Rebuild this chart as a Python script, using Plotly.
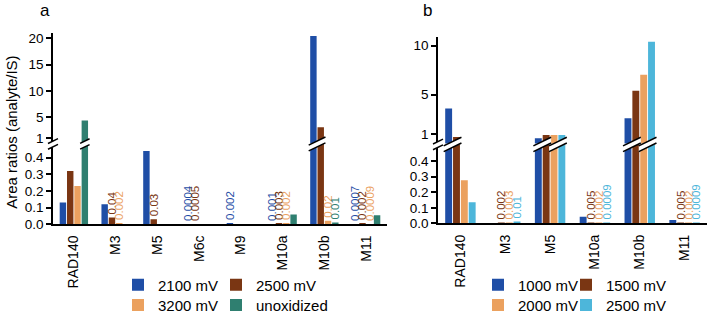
import plotly.graph_objects as go

W, H = 708, 322
FONT = "Liberation Sans, Arial, sans-serif"

# ---------------- data: panel a ----------------
cats_a = ["RAD140", "M3", "M5", "M6c", "M9", "M10a", "M10b", "M11"]
names_a = ["2100 mV", "2500 mV", "3200 mV", "unoxidized"]
a_2100 = [0.13, 0.12, 0.44, 0.0004, 0.002, 0.001, 20.4, 0.0007]
a_2500 = [0.32, 0.04, 0.03, 0.0005, None, 0.003, 3.1, 0.002]
a_3200 = [0.23, 0.002, None, None, None, 0.002, 0.02, 0.0009]
a_unox = [4.4, None, None, None, None, 0.058, 0.01, 0.054]
a_lab_2100 = ["", "", "", "0.0004", "0.002", "0.001", "", "0.0007"]
a_lab_2500 = ["", "0.04", "0.03", "0.0005", "", "0.003", "", "0.002"]
a_lab_3200 = ["", "0.002", "", "", "", "0.002", "0.02", "0.0009"]
a_lab_unox = ["", "", "", "", "", "", "0.01", ""]

# ---------------- data: panel b ----------------
cats_b = ["RAD140", "M3", "M5", "M10a", "M10b", "M11"]
names_b = ["1000 mV", "1500 mV", "2000 mV", "2500 mV"]
b_1000 = [3.57, None, 0.53, 0.043, 2.58, 0.022]
b_1500 = [0.67, 0.002, 0.87, 0.005, 5.39, 0.005]
b_2000 = [0.277, 0.003, 0.87, 0.002, 7.04, 0.002]
b_2500 = [0.136, 0.01, 0.88, 0.0009, 10.4, 0.0009]
b_lab_1000 = ["", "", "", "", "", ""]
b_lab_1500 = ["", "0.002", "", "0.005", "", "0.005"]
b_lab_2000 = ["", "0.003", "", "0.002", "", "0.002"]
b_lab_2500 = ["", "0.01", "", "0.0009", "", "0.0009"]

lower_ticks = [0.0, 0.1, 0.2, 0.3, 0.4]
upper_ticks_a = [1, 5, 10, 15, 20]
upper_ticks_b = [1, 5, 10]

col_a = ["#1f4ea6", "#7a3613", "#eba15f", "#2f7f70"]
col_b = ["#1f4ea6", "#7a3613", "#eba15f", "#4db6da"]

BARGAP, GROUPGAP = 0.3, 0.12

# ---------------- geometry (pixels) ----------------
panels = [
    dict(cats=cats_a, names=names_a, vals=[a_2100, a_2500, a_3200, a_unox],
         labs=[a_lab_2100, a_lab_2500, a_lab_3200, a_lab_unox], cols=col_a,
         x0=53, x1=387, y0=229.3, lscale=171.5, brk=146.5,
         one=140.7, uscale=5.44, top=31.7, uticks=upper_ticks_a,
         legx=[118, 216], title="a", tx=45),
    dict(cats=cats_b, names=names_b, vals=[b_1000, b_1500, b_2000, b_2500],
         labs=[b_lab_1000, b_lab_1500, b_lab_2000, b_lab_2500], cols=col_b,
         x0=438, x1=707, y0=228.5, lscale=160.5, brk=147.0,
         one=136.0, uscale=10.1, top=36.0, uticks=upper_ticks_b,
         legx=[478, 566], title="b", tx=427),
]

fig = go.Figure()
layout = dict(width=W, height=H, margin=dict(l=0, r=0, t=0, b=0),
              plot_bgcolor="white", paper_bgcolor="white",
              font=dict(family=FONT, color="black"),
              barmode="group", bargap=BARGAP, bargroupgap=GROUPGAP,
              showlegend=True)
shapes = []
annotations = []

def px2x(px):
    return px / W

def py2y(py):
    return 1 - py / H

def break_mark(xa, xb, yc, slope=0.5, gap=6.0):
    w = xb - xa
    rise = slope * w / 2
    g = gap / 2
    pts = [(xa, yc + g + rise), (xb, yc + g - rise), (xb, yc - g - rise), (xa, yc - g + rise)]
    path = "M " + " L ".join(f"{px2x(x):.5f},{py2y(y):.5f}" for x, y in pts) + " Z"
    shapes.append(dict(type="path", path=path, xref="paper", yref="paper",
                       fillcolor="white", line=dict(width=0), layer="above"))
    for off in (g, -g):
        shapes.append(dict(type="line", xref="paper", yref="paper",
                           x0=px2x(xa), y0=py2y(yc + off + rise),
                           x1=px2x(xb), y1=py2y(yc + off - rise),
                           line=dict(color="black", width=1.5), layer="above"))

legend_rows_y = [292, 313]
leg_counter = [0]

for p_i, p in enumerate(panels):
    n = len(p["cats"])
    k = 2 * p_i
    xl, yl = f"x{k + 1 if k else ''}", f"y{k + 1 if k else ''}"
    xu, yu = f"x{k + 2}", f"y{k + 2}"
    lower_top = (p["y0"] - p["brk"]) / p["lscale"]
    up_lo = 1 - (p["brk"] - p["one"]) / p["uscale"]
    up_hi = 1 + (p["one"] - p["top"]) / p["uscale"]

    axis_common = dict(showgrid=False, zeroline=False, showline=True,
                       linecolor="black", linewidth=1.5)
    layout["xaxis" + (str(k + 1) if k else "")] = dict(
        domain=[px2x(p["x0"]), px2x(p["x1"])], anchor=yl, type="category",
        categoryarray=p["cats"], range=[-0.5, n - 0.5], ticks="",
        tickangle=-90, tickfont=dict(size=14), ticklabelstandoff=4, **axis_common)
    layout["yaxis" + (str(k + 1) if k else "")] = dict(
        domain=[py2y(p["y0"]), py2y(p["brk"])], anchor=xl,
        range=[0, lower_top], tickvals=lower_ticks,
        ticktext=[f"{v:.1f}" for v in lower_ticks], ticks="outside",
        ticklen=5, tickwidth=1.5, tickcolor="black", tickfont=dict(size=13.5),
        **axis_common)
    layout[f"xaxis{k + 2}"] = dict(
        domain=[px2x(p["x0"]), px2x(p["x1"])], anchor=yu, type="category",
        categoryarray=p["cats"], range=[-0.5, n - 0.5], visible=False,
        matches=xl)
    layout[f"yaxis{k + 2}"] = dict(
        domain=[py2y(p["brk"]), py2y(p["top"])], anchor=xu,
        range=[up_lo, up_hi], tickvals=p["uticks"],
        ticktext=[str(v) for v in p["uticks"]], ticks="outside",
        ticklen=5, tickwidth=1.5, tickcolor="black", tickfont=dict(size=13.5),
        **axis_common)

    for s_i, (name, vals, labs, col) in enumerate(zip(p["names"], p["vals"], p["labs"], p["cols"])):
        leg_counter[0] += 1
        leg = "legend" if leg_counter[0] == 1 else f"legend{leg_counter[0]}"
        layout[leg] = dict(orientation="h", x=px2x(p["legx"][s_i % 2]), xanchor="left",
                           y=py2y(legend_rows_y[s_i // 2]), yanchor="middle",
                           font=dict(size=15), bgcolor="rgba(0,0,0,0)", borderwidth=0,
                           itemclick=False, itemdoubleclick=False)
        fig.add_trace(go.Bar(
            x=p["cats"], y=vals, name=name, xaxis=xl, yaxis=yl,
            marker=dict(color=col, line=dict(width=0)),
            text=labs, textposition="outside", textangle=-90,
            textfont=dict(color=col, size=11.5, family=FONT),
            constraintext="none", legend=leg, showlegend=True,
            hoverinfo="x+y+name"))
        upper_vals = [v if (v is not None and v > lower_top) else None for v in vals]
        fig.add_trace(go.Bar(
            x=p["cats"], y=upper_vals, name=name, xaxis=xu, yaxis=yu,
            marker=dict(color=col, line=dict(width=0)),
            showlegend=False, hoverinfo="x+y+name"))

    # break marks: axis and bars that cross the break
    cw = (p["x1"] - p["x0"]) / n
    slot = (1 - BARGAP) / 4
    half = slot * (1 - GROUPGAP) / 2
    break_mark(p["x0"] - 5, p["x0"] + 5, p["brk"])
    for c in range(n):
        for pair in ((0, 1), (2, 3)):
            crossing = [s for s in pair
                        if p["vals"][s][c] is not None and p["vals"][s][c] > lower_top]
            if not crossing:
                continue
            lefts = [c + (-(1 - BARGAP) / 2 + (s + 0.5) * slot) - half for s in crossing]
            rights = [c + (-(1 - BARGAP) / 2 + (s + 0.5) * slot) + half for s in crossing]
            xa = p["x0"] + (min(lefts) + 0.5) * cw - 1.5
            xb = p["x0"] + (max(rights) + 0.5) * cw + 1.5
            break_mark(xa, xb, p["brk"])

    annotations.append(dict(text=p["title"], x=px2x(p["tx"]), y=py2y(9),
                            xref="paper", yref="paper", showarrow=False,
                            font=dict(size=17), xanchor="center", yanchor="middle"))

annotations.append(dict(text="Area ratios (analyte/IS)", x=px2x(12), y=py2y(135),
                        xref="paper", yref="paper", showarrow=False, textangle=-90,
                        font=dict(size=15), xanchor="center", yanchor="middle"))

layout["shapes"] = shapes
layout["annotations"] = annotations
fig.update_layout(**layout)

fig.write_html("out.html", config={"displayModeBar": False},
               post_script="document.body.style.margin='0';document.body.style.overflow='hidden';")
